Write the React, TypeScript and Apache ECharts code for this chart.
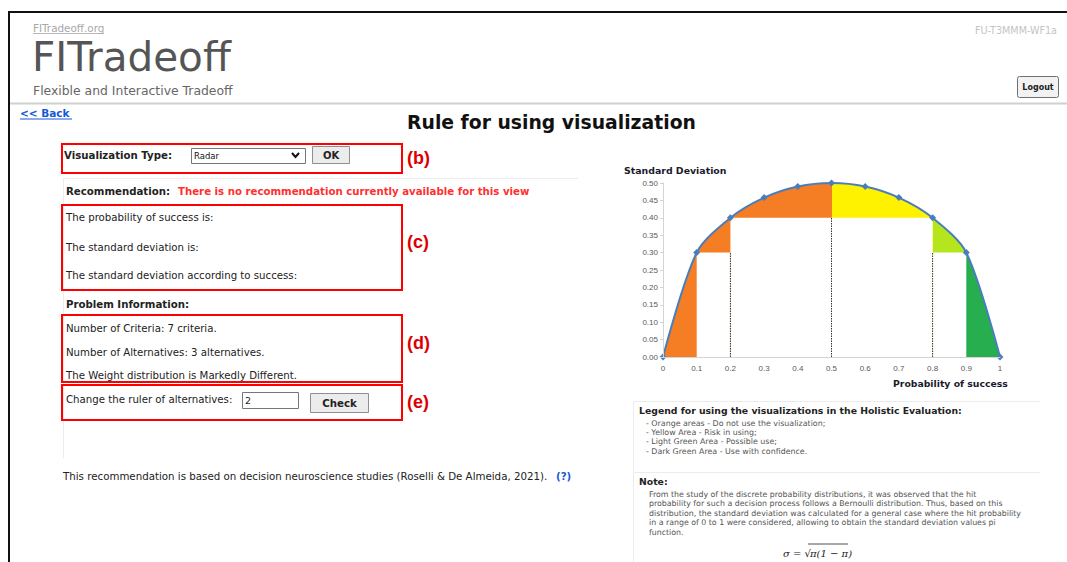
import React, { useEffect, useRef } from "react";
import * as echarts from "echarts";

// ---- Data ----
const probability = [0, 0.1, 0.2, 0.3, 0.4, 0.5, 0.6, 0.7, 0.8, 0.9, 1];
const standardDeviation = [0, 0.3, 0.4, 0.458, 0.49, 0.5, 0.49, 0.458, 0.4, 0.3, 0];
const xTickLabels = ["0", "0.1", "0.2", "0.3", "0.4", "0.5", "0.6", "0.7", "0.8", "0.9", "1"];
const yTickLabels = ["0.00", "0.05", "0.10", "0.15", "0.20", "0.25", "0.30", "0.35", "0.40", "0.45", "0.50"];
// zones along probability axis: [from, to]
const zoneOrange = [0, 0.5];
const zoneYellow = [0.5, 0.8];
const zoneLightGreen = [0.8, 0.9];
const zoneDarkGreen = [0.9, 1];
// white (unshaded) regions under the curve: [x0, x1, y0, y1]
const unshadedRegions = [
  [0.1, 0.2, 0, 0.3],
  [0.2, 0.8, 0, 0.4],
  [0.8, 0.9, 0, 0.3],
];
// dotted guide lines: [x, y0, y1]
const guideLines = [
  [0.2, 0, 0.3],
  [0.5, 0, 0.4],
  [0.8, 0, 0.3],
];
const legendLines = [
  "- Orange areas - Do not use the visualization;",
  "- Yellow Area - Risk in using;",
  "- Light Green Area - Possible use;",
  "- Dark Green Area - Use with confidence.",
];
const noteLines = [
  "From the study of the discrete probability distributions, it was observed that the hit",
  "probability for such a decision process follows a Bernoulli distribution. Thus, based on this",
  "distribution, the standard deviation was calculated for a general case where the hit probability",
  "in a range of 0 to 1 were considered, allowing to obtain the standard deviation values pi",
  "function.",
];

const FONT = "DejaVu Sans";
const RED = "#ff0000";
const RED_TXT = "#dd0000";
const BLUE_LINK = "#1558d6";

type TO = { s?: number; c?: string; b?: boolean; a?: string; f?: string; st?: string };
const T = (text: string, x: number, y: number, o: TO = {}) => ({
  type: "text",
  x,
  y,
  silent: true,
  z: 100,
  style: {
    text,
    fill: o.c || "#222",
    fontSize: o.s || 10.2,
    fontWeight: o.b ? "bold" : "normal",
    fontStyle: o.st || "normal",
    fontFamily: o.f || FONT,
    align: o.a || "left",
    verticalAlign: "middle",
  },
});
const R = (x: number, y: number, w: number, h: number, stroke: string, fill = "none", lw = 2, r = 0) => ({
  type: "rect",
  silent: true,
  z: 90,
  shape: { x, y, width: w, height: h, r },
  style: { stroke, fill, lineWidth: lw },
});
const L = (x1: number, y1: number, x2: number, y2: number, stroke: string, lw = 1) => ({
  type: "line",
  silent: true,
  z: 90,
  shape: { x1, y1, x2, y2 },
  style: { stroke, lineWidth: lw },
});

export default function App() {
  const ref = useRef<HTMLDivElement>(null);
  useEffect(() => {
    if (!ref.current) return;
    const chart = echarts.init(ref.current, null, { renderer: "svg" });
    const curve = probability.map((p, i) => [p, standardDeviation[i]]);

    const graphics: any[] = [
      // frame
      L(8, 12, 1067, 12, "#111", 2),
      L(9, 12, 9, 562, "#111", 2),
      // header
      T("FITradeoff.org", 33, 28, { s: 10.4, c: "#a8a8a8" }),
      L(33, 33.5, 104, 33.5, "#b8b8b8", 1),
      T("FITradeoff", 32, 57, { s: 40.5, c: "#555" }),
      T("Flexible and Interactive Tradeoff", 33, 90, { s: 12.4, c: "#666" }),
      L(10, 103.5, 1067, 103.5, "#d0d0d0", 2),
      T("<< Back", 20, 113, { s: 10.5, b: true, c: BLUE_LINK }),
      L(20, 119, 72, 119, BLUE_LINK, 1),
      T("FU-T3MMM-WF1a", 975, 30, { s: 9.6, c: "#c4c4c4" }),
      R(1017.5, 76.5, 41, 21, "#707070", "#f2f2f2", 1, 2),
      T("Logout", 1038, 87, { s: 8, b: true, a: "center" }),
      T("Rule for using visualization", 551.5, 122, { s: 18.8, b: true, a: "center", c: "#111" }),

      // left panel
      L(63, 178.5, 578, 178.5, "#ececec", 1),
      L(63.5, 178, 63.5, 458, "#ececec", 1),

      // (b)
      R(62, 144, 340, 29, RED),
      T("Visualization Type:", 64, 155, { b: true }),
      R(191.5, 148.5, 114, 15, "#767676", "#fff", 1),
      T("Radar", 194, 156, { s: 8.5, c: "#111" }),
      { type: "polyline", silent: true, z: 95, shape: { points: [[292, 153], [295.5, 157], [299, 153]] }, style: { stroke: "#111", lineWidth: 2, fill: "none" } },
      R(312.5, 146.5, 37, 17, "#8f8f8f", "#ececec", 1),
      T("OK", 331, 155, { b: true, a: "center", s: 10 }),
      T("(b)", 407, 158, { f: "Liberation Sans", b: true, s: 18, c: RED_TXT }),

      T("Recommendation:", 66, 191, { b: true }),
      T("There is no recommendation currently available for this view", 178, 191, { b: true, c: "#ff3030" }),

      // (c)
      R(62, 205, 340, 85, RED),
      T("The probability of success is:", 66, 217),
      T("The standard deviation is:", 66, 247),
      T("The standard deviation according to success:", 66, 275),
      T("(c)", 407, 242, { f: "Liberation Sans", b: true, s: 18, c: RED_TXT }),

      T("Problem Information:", 66, 304, { b: true }),
      // (d)
      R(62, 315, 340, 67, RED),
      T("Number of Criteria: 7 criteria.", 66, 328),
      T("Number of Alternatives: 3 alternatives.", 66, 352),
      T("The Weight distribution is Markedly Different.", 66, 375),
      T("(d)", 407, 343, { f: "Liberation Sans", b: true, s: 18, c: RED_TXT }),
      // (e)
      R(62, 385, 340, 35, RED),
      T("Change the ruler of alternatives:", 66, 399),
      R(242.5, 392.5, 56, 16, "#767676", "#fff", 1),
      T("2", 245, 400.5, { s: 9.5 }),
      R(310.5, 393.5, 58, 19, "#8f8f8f", "#ececec", 1),
      T("Check", 339.5, 403, { b: true, a: "center" }),
      T("(e)", 407, 402, { f: "Liberation Sans", b: true, s: 18, c: RED_TXT }),

      T("This recommendation is based on decision neuroscience studies (Roselli & De Almeida, 2021).", 63, 476, { s: 10.25 }),
      T("(?)", 556, 476, { b: true, c: BLUE_LINK }),

      // chart titles
      T("Standard Deviation", 624, 170, { b: true, s: 9.4, c: "#1a1a2e" }),
      T("Probability of success", 893, 383, { b: true, s: 9.3, c: "#1a1a2e" }),

      // right legend panel
      L(633, 401.5, 1040, 401.5, "#ececec", 1),
      L(633.5, 401, 633.5, 562, "#ececec", 1),
      L(633, 472.5, 1040, 472.5, "#ececec", 1),
      T("Legend for using the visualizations in the Holistic Evaluation:", 639, 410, { b: true, s: 9.3, c: "#222" }),
      ...legendLines.map((s, i) => T(s, 646, 423 + i * 9.4, { s: 7.9, c: "#555" })),
      T("Note:", 639, 481, { b: true, s: 9.3, c: "#222" }),
      ...noteLines.map((s, i) => T(s, 649, 494 + i * 9.5, { s: 7.85, c: "#555" })),
      T("σ = √", 783, 553, { s: 10, st: "italic", f: "DejaVu Serif", c: "#222" }),
      T("π(1 − π)", 810, 553, { s: 10, st: "italic", f: "DejaVu Serif", c: "#222" }),
      L(808, 544, 848, 544, "#222", 0.8),
    ];

    const option: any = {
      animation: false,
      backgroundColor: "#fff",
      grid: { left: 663, top: 183, width: 337, height: 174 },
      xAxis: {
        type: "value",
        min: 0,
        max: 1,
        interval: 0.1,
        z: 10,
        axisLine: { show: true, lineStyle: { color: "#d4d4d4", width: 1 } },
        axisTick: { show: false },
        splitLine: { show: false },
        axisLabel: {
          margin: 7,
          fontSize: 8,
          color: "#595959",
          fontFamily: "Liberation Sans",
          formatter: (v: number) => xTickLabels[Math.round(v * 10)],
        },
      },
      yAxis: {
        type: "value",
        min: 0,
        max: 0.5,
        interval: 0.05,
        z: 10,
        axisLine: { show: true, lineStyle: { color: "#d4d4d4", width: 1 } },
        axisTick: { show: true, length: 3, lineStyle: { color: "#d4d4d4" } },
        splitLine: { show: false },
        axisLabel: {
          margin: 5,
          fontSize: 8,
          color: "#595959",
          fontFamily: "Liberation Sans",
          formatter: (v: number) => yTickLabels[Math.round(v * 20)],
        },
      },
      visualMap: {
        type: "piecewise",
        show: false,
        dimension: 0,
        seriesIndex: 0,
        pieces: [
          { gte: zoneOrange[0], lt: zoneOrange[1], color: "#f57d23" },
          { gte: zoneYellow[0], lt: zoneYellow[1], color: "#fff200" },
          { gte: zoneLightGreen[0], lt: zoneLightGreen[1], color: "#b5e61d" },
          { gte: zoneDarkGreen[0], lte: zoneDarkGreen[1], color: "#27ae4f" },
        ],
      },
      series: [
        {
          type: "line",
          data: curve,
          smooth: 0.3,
          showSymbol: false,
          lineStyle: { width: 0, opacity: 0 },
          areaStyle: { opacity: 1 },
          z: 1,
          silent: true,
        },
        {
          type: "custom",
          data: unshadedRegions,
          encode: { x: [0, 1], y: [2, 3] },
          z: 2,
          silent: true,
          renderItem: (_p: any, api: any) => {
            const a = api.coord([api.value(0), api.value(3)]);
            const b = api.coord([api.value(1), api.value(2)]);
            return {
              type: "rect",
              shape: { x: a[0], y: a[1], width: b[0] - a[0], height: b[1] - a[1] },
              style: { fill: "#ffffff" },
            };
          },
        },
        {
          type: "custom",
          data: guideLines,
          encode: { x: 0, y: [1, 2] },
          z: 3,
          silent: true,
          renderItem: (_p: any, api: any) => {
            const a = api.coord([api.value(0), api.value(1)]);
            const b = api.coord([api.value(0), api.value(2)]);
            return {
              type: "line",
              shape: { x1: a[0], y1: a[1], x2: b[0], y2: b[1] },
              style: { stroke: "#333", lineWidth: 1, lineDash: [1.5, 1] },
            };
          },
        },
        {
          type: "line",
          data: curve,
          smooth: 0.3,
          symbol: "diamond",
          symbolSize: 7,
          lineStyle: { color: "#4a7ebb", width: 2 },
          itemStyle: { color: "#4a7ebb" },
          z: 5,
          silent: true,
        },
      ],
      graphic: { elements: graphics },
    };
    chart.setOption(option);
    return () => chart.dispose();
  }, []);
  return (
    <div
      ref={ref}
      style={{ position: "fixed", left: 0, top: 0, width: 1067, height: 562, background: "#fff" }}
    />
  );
}
